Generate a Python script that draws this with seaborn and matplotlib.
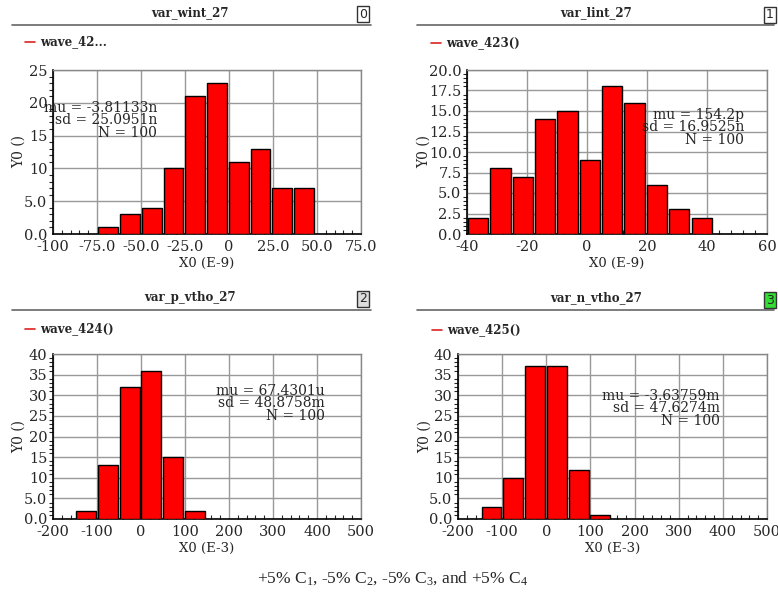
import numpy as np
import pandas as pd
import matplotlib
matplotlib.use("Agg")
import matplotlib.pyplot as plt
import seaborn as sns
from matplotlib.ticker import AutoMinorLocator
from matplotlib.lines import Line2D

# ---------------- data ----------------
titles = ["var_wint_27", "var_lint_27", "var_p_vtho_27", "var_n_vtho_27"]
legend_names = ["wave_42...", "wave_423()", "wave_424()", "wave_425()"]
panel_ids = ["0", "1", "2", "3"]
xlabels = ["X0 (E-9)", "X0 (E-9)", "X0 (E-3)", "X0 (E-3)"]

counts0 = [1, 3, 4, 10, 21, 23, 11, 13, 7, 7]
counts1 = [2, 8, 7, 14, 15, 9, 18, 16, 6, 3, 2]
counts2 = [2, 13, 32, 36, 15, 2]
counts3 = [3, 10, 37, 37, 12, 1]
bin_start = [-74.8, -40.0, -149.0, -148.6]
bin_width = [12.36, 7.45, 49.3, 49.3]

xticks0 = [-100, -75, -50, -25, 0, 25, 50, 75]
xticklabels0 = ["-100", "-75.0", "-50.0", "-25.0", "0", "25.0", "50.0", "75.0"]
xticks1 = [-40, -20, 0, 20, 40, 60]
xticklabels1 = ["-40", "-20", "0", "20", "40", "60"]
xticks23 = [-200, -100, 0, 100, 200, 300, 400, 500]
xticklabels23 = ["-200", "-100", "0", "100", "200", "300", "400", "500"]

yticks0 = [0, 5, 10, 15, 20, 25]
yticklabels0 = ["0.0", "5.0", "10", "15", "20", "25"]
yticks1 = [0, 2.5, 5, 7.5, 10, 12.5, 15, 17.5, 20]
yticklabels1 = ["0.0", "2.5", "5.0", "7.5", "10.0", "12.5", "15.0", "17.5", "20.0"]
yticks23 = [0, 5, 10, 15, 20, 25, 30, 35, 40]
yticklabels23 = ["0.0", "5.0", "10", "15", "20", "25", "30", "35", "40"]

stats = [
    ["mu = -3.81133n", "sd = 25.0951n", "N = 100"],
    ["mu = 154.2p", "sd = 16.9525n", "N = 100"],
    ["mu = 67.4301u", "sd = 48.8758m", "N = 100"],
    ["mu = -3.63759m", "sd = 47.6274m", "N = 100"],
]
caption = r"+5% C$_1$, -5% C$_2$, -5% C$_3$, and +5% C$_4$"

all_counts = [counts0, counts1, counts2, counts3]
all_xticks = [xticks0, xticks1, xticks23, xticks23]
all_xticklabels = [xticklabels0, xticklabels1, xticklabels23, xticklabels23]
all_yticks = [yticks0, yticks1, yticks23, yticks23]
all_yticklabels = [yticklabels0, yticklabels1, yticklabels23, yticklabels23]

# ---------------- style ----------------
sns.set_style("white")
plt.rcParams["font.family"] = ["DejaVu Serif", "DejaVu Sans"]
plt.rcParams["mathtext.fontset"] = "custom"
plt.rcParams["mathtext.rm"] = "Liberation Serif"
plt.rcParams["mathtext.default"] = "regular"

W, H = 778, 592
fig = plt.figure(figsize=(W / 100, H / 100), dpi=100)
fig.patch.set_facecolor("white")

def fx(px):
    return px / W

def fy(py):
    return 1 - py / H

# layout in pixels: (left, right, top, bottom)
axes_px = [(53, 361, 70, 234), (467, 767, 70, 234), (53, 361, 354, 519), (458, 767, 354, 519)]
title_px = [(190, 13), (596, 13), (190, 298), (596, 298)]
rule_px = [(12, 371, 25), (417, 774, 25), (12, 371, 310), (417, 774, 310)]
box_px = [(363, 14), (770, 15), (363, 299), (770, 300)]
box_colors = ["white", "white", "#dddddd", "#33dd33"]
legend_px = [(25, 42), (431, 43), (25, 329), (432, 330)]
stats_px = [(157, 101), (744, 108), (325, 384), (720, 389)]
ylabel_x = [19, 424, 19, 425]
xlabel_y = [263, 263, 548, 548]

for i in range(4):
    l, r, t, b = axes_px[i]
    ax = fig.add_axes([fx(l), fy(b), fx(r - l), (b - t) / H])
    counts = all_counts[i]
    edges = [bin_start[i] + bin_width[i] * k for k in range(len(counts) + 1)]
    centers = [bin_start[i] + bin_width[i] * (k + 0.5) for k in range(len(counts))]
    df = pd.DataFrame({"x": centers, "n": counts})
    sns.histplot(data=df, x="x", weights="n", bins=edges, shrink=0.91,
                 color="#ff0000", edgecolor="black", linewidth=1.0, alpha=1.0,
                 ax=ax, zorder=3)
    ax.set_xlim(all_xticks[i][0], all_xticks[i][-1])
    ax.set_ylim(all_yticks[i][0], all_yticks[i][-1])
    ax.set_xticks(all_xticks[i])
    ax.set_xticklabels(all_xticklabels[i], fontsize=10.5)
    ax.set_yticks(all_yticks[i])
    ax.set_yticklabels(all_yticklabels[i], fontsize=10.5)
    ax.xaxis.set_minor_locator(AutoMinorLocator(5))
    ax.yaxis.set_minor_locator(AutoMinorLocator(5))
    ax.grid(True, which="major", color="#999999", linewidth=1.0, zorder=0)
    ax.set_axisbelow(True)
    ax.tick_params(axis="both", which="major", length=3, width=1, color="black")
    ax.tick_params(axis="x", which="major", direction="inout", pad=3)
    ax.tick_params(axis="y", which="major", direction="out", pad=1)
    ax.tick_params(axis="x", which="minor", direction="in", length=3, width=0.8, bottom=True)
    ax.tick_params(axis="y", which="minor", direction="out", length=3, width=0.8, left=True)
    for s in ["left", "bottom"]:
        ax.spines[s].set_color("black")
        ax.spines[s].set_linewidth(1.2)
    for s in ["top", "right"]:
        ax.spines[s].set_color("#888888")
        ax.spines[s].set_linewidth(1.0)
    ax.set_ylabel("Y0 ()", fontsize=10)
    ax.yaxis.set_label_coords((ylabel_x[i] - l) / (r - l), 0.5)
    ax.yaxis.label.set_va("center")
    ax.set_xlabel(xlabels[i], fontsize=9.5)
    ax.xaxis.set_label_coords(0.5, -(xlabel_y[i] - b) / (b - t))
    ax.xaxis.label.set_va("center")

    # stats text
    sx, sy = stats_px[i]
    fig.text(fx(sx), fy(sy), "\n".join(stats[i]), ha="right", va="top",
             multialignment="right", fontsize=10, linespacing=0.85, zorder=10)

    # title and rule
    tx, ty = title_px[i]
    fig.text(fx(tx), fy(ty), titles[i], ha="center", va="center",
             fontsize=8.5, fontweight="bold")
    x0, x1, yy = rule_px[i]
    fig.add_artist(Line2D([fx(x0), fx(x1)], [fy(yy), fy(yy)], color="#666666", lw=1.2))
    bx, by = box_px[i]
    fig.text(fx(bx), fy(by), panel_ids[i], ha="center", va="center", fontsize=9,
             family="DejaVu Sans",
             bbox=dict(boxstyle="square,pad=0.15", facecolor=box_colors[i],
                       edgecolor="#333333", linewidth=1))

    # legend
    lx, ly = legend_px[i]
    fig.add_artist(Line2D([fx(lx), fx(lx + 10)], [fy(ly), fy(ly)], color="#dd2222", lw=1.2))
    fig.text(fx(lx + 15), fy(ly), legend_names[i], ha="left", va="center",
             fontsize=8.5, fontweight="bold")

fig.text(fx(392), fy(578), caption, ha="center", va="center", fontsize=12.5,
         family="Liberation Serif")

fig.savefig("out.png", dpi=100)
